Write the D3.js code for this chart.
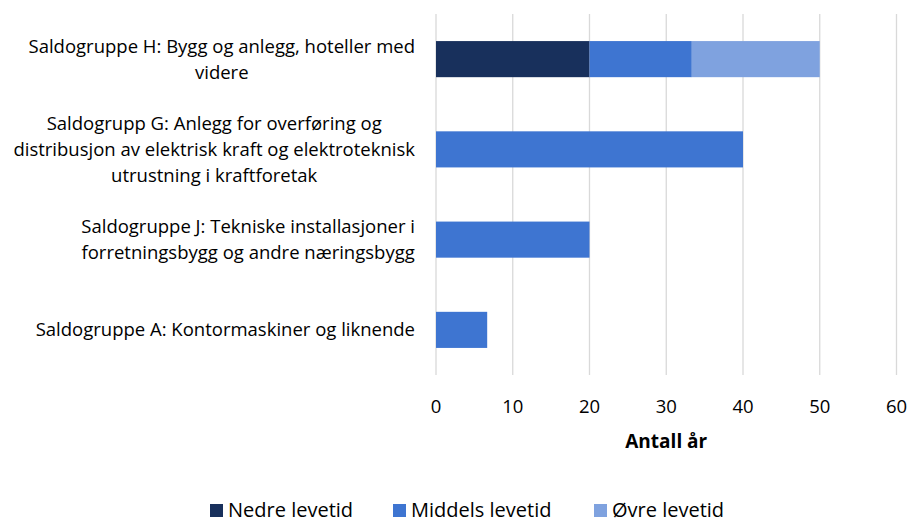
<!DOCTYPE html>
<html>
<head>
<meta charset="utf-8">
<script src="https://cdn.jsdelivr.net/npm/d3@7"></script>
<style>
  body { margin: 0; background: #fff; }
  text { font-family: "Open Sans", sans-serif; fill: #000; }
</style>
</head>
<body>
<script>
// categories, top to bottom (label lines as in the original)
var categories = ['H', 'G', 'J', 'A'];
var categoryLabels = [
  ['Saldogruppe H: Bygg og anlegg, hoteller med', 'videre'],
  ['Saldogrupp G: Anlegg for overføring og', 'distribusjon av elektrisk kraft og elektroteknisk', 'utrustning i kraftforetak'],
  ['Saldogruppe J: Tekniske installasjoner i', 'forretningsbygg og andre næringsbygg'],
  ['Saldogruppe A: Kontormaskiner og liknende']
];

var seriesNames = ['Nedre levetid', 'Middels levetid', 'Øvre levetid'];
var nedre   = [20, 0, 0, 0];
var middels = [13.33, 40, 20, 6.67];
var ovre    = [16.67, 0, 0, 0];
var xTicks = [0, 10, 20, 30, 40, 50, 60];

var colors = ['#18305c', '#3e75d1', '#7fa2df'];

var width = 912, height = 522;
var svg = d3.select('body').append('svg').attr('width', width).attr('height', height);

var x = d3.scaleLinear().domain([0, 60]).range([436, 896.5]);
var y = d3.scaleBand().domain(categories).range([14, 375]).paddingInner(0.6).paddingOuter(0.3);

// gridlines
svg.append('g').selectAll('line').data(xTicks).enter().append('line')
  .attr('x1', function(d) { return x(d); })
  .attr('x2', function(d) { return x(d); })
  .attr('y1', 14).attr('y2', 375)
  .attr('stroke', '#d9d9d9').attr('stroke-width', 1.3);

// stacked bars
var rows = categories.map(function(c, i) {
  return { cat: c, nedre: nedre[i], middels: middels[i], ovre: ovre[i] };
});
var stack = d3.stack().keys(['nedre', 'middels', 'ovre'])(rows);

svg.append('g').selectAll('g').data(stack).enter().append('g')
  .attr('fill', function(d, i) { return colors[i]; })
  .selectAll('rect').data(function(d) { return d; }).enter().append('rect')
  .attr('x', function(d) { return x(d[0]); })
  .attr('width', function(d) { return x(d[1]) - x(d[0]); })
  .attr('y', function(d) { return y(d.data.cat); })
  .attr('height', y.bandwidth());

// x tick labels
svg.append('g').selectAll('text').data(xTicks).enter().append('text')
  .attr('x', function(d) { return x(d); })
  .attr('y', 413)
  .attr('text-anchor', 'middle')
  .style('font-size', '18.5px')
  .text(function(d) { return d; });

svg.append('text')
  .attr('x', x(30)).attr('y', 448)
  .attr('text-anchor', 'middle')
  .style('font-size', '19px').style('font-weight', 'bold')
  .text('Antall år');

// category labels, centered lines, block right-aligned at 415
var lineH = 26;
categoryLabels.forEach(function(lines, i) {
  var cy = y(categories[i]) + y.bandwidth() / 2;
  var g = svg.append('g');
  var t = g.selectAll('text').data(lines).enter().append('text')
    .attr('y', function(d, j) { return cy + (j - (lines.length - 1) / 2) * lineH + 6.5; })
    .attr('text-anchor', 'middle')
    .style('font-size', '18.5px')
    .text(function(d) { return d; });
  var maxW = d3.max(t.nodes(), function(n) { return n.getComputedTextLength(); });
  t.attr('x', 415 - maxW / 2);
});

// legend
var legendX = [210, 393, 594];
var leg = svg.append('g').selectAll('g').data(seriesNames).enter().append('g')
  .attr('transform', function(d, i) { return 'translate(' + legendX[i] + ',504)'; });
leg.append('rect').attr('width', 13).attr('height', 13)
  .attr('fill', function(d, i) { return colors[i]; });
leg.append('text').attr('x', 18).attr('y', 13)
  .style('font-size', '20px')
  .text(function(d) { return d; });
</script>
</body>
</html>
